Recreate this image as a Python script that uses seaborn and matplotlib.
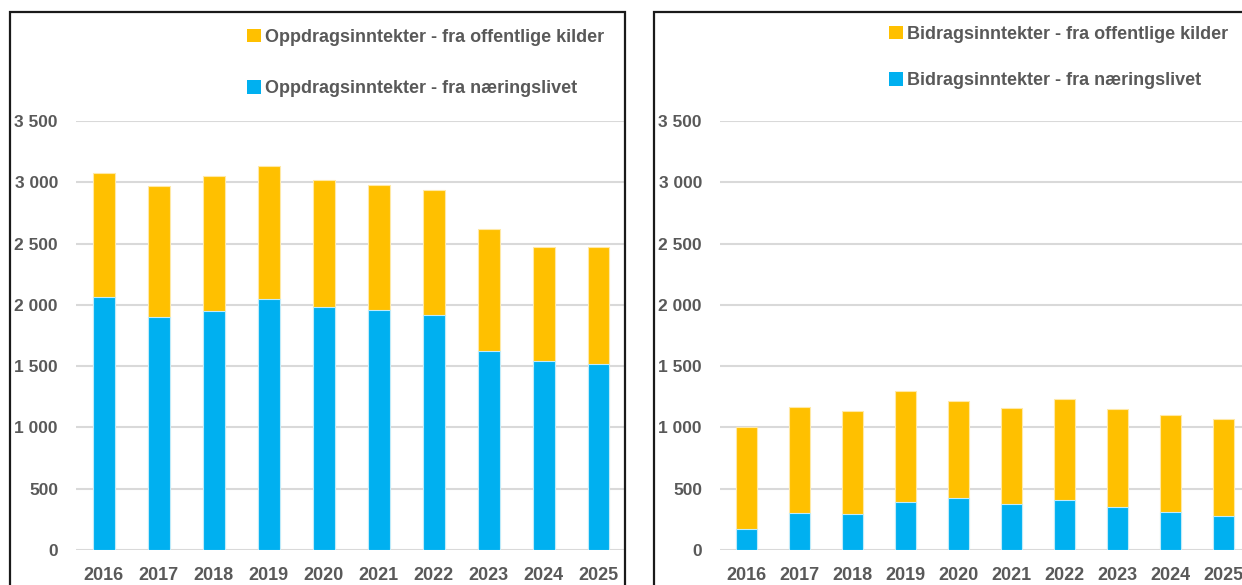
import matplotlib
matplotlib.use("Agg")
import matplotlib.pyplot as plt
import seaborn as sns
import pandas as pd
from matplotlib.patches import Rectangle, Patch
from matplotlib.ticker import FuncFormatter, MultipleLocator

years = ["2016", "2017", "2018", "2019", "2020", "2021", "2022", "2023", "2024", "2025"]

# Left panel: Oppdragsinntekter
oppdrag_naering = [2067, 1904, 1950, 2045, 1985, 1956, 1917, 1624, 1542, 1518]
oppdrag_offentlig = [1011, 1068, 1104, 1088, 1034, 1025, 1020, 993, 928, 952]

# Right panel: Bidragsinntekter
bidrag_naering = [171, 304, 291, 392, 427, 378, 410, 348, 310, 277]
bidrag_offentlig = [835, 862, 845, 902, 786, 778, 822, 800, 789, 794]

labels_left = ["Oppdragsinntekter - fra offentlige kilder", "Oppdragsinntekter - fra næringslivet"]
labels_right = ["Bidragsinntekter - fra offentlige kilder", "Bidragsinntekter - fra næringslivet"]

ORANGE = "#FFC000"
BLUE = "#00B0F0"
GRID = "#D9D9D9"
TEXT = "#595959"

sns.set_theme(style="white")
plt.rcParams["font.family"] = ["Liberation Sans", "DejaVu Sans"]

W, H = 1242, 585
fig = plt.figure(figsize=(W / 100, H / 100), dpi=100)


def px_axes(x0, y0_bottom, w, h):
    return fig.add_axes([x0 / W, (H - y0_bottom) / H, w / W, h / H])


def draw_panel(ax, naering, offentlig, labels, leg_x, leg_y, spacing):
    df = pd.DataFrame({"year": years,
                       "naering": naering,
                       "total": [a + b for a, b in zip(naering, offentlig)]})
    sns.barplot(data=df, x="year", y="total", color=ORANGE, width=0.4,
                saturation=1, edgecolor="#FFE9A6", linewidth=0.8, ax=ax, zorder=3)
    sns.barplot(data=df, x="year", y="naering", color=BLUE, width=0.4,
                saturation=1, edgecolor="#BFEBFB", linewidth=0.8, ax=ax, zorder=4)
    ax.set_ylim(0, 3500)
    ax.set_xlim(-0.5, 9.5)
    ax.yaxis.set_major_locator(MultipleLocator(500))
    ax.yaxis.set_major_formatter(FuncFormatter(lambda v, p: f"{int(v):,}".replace(",", " ")))
    ax.grid(axis="y", color=GRID, linewidth=1.5, zorder=0)
    ax.set_axisbelow(True)
    for s in ax.spines.values():
        s.set_visible(False)
    ax.set_xlabel("")
    ax.set_ylabel("")
    ax.tick_params(axis="both", length=0)
    ax.tick_params(axis="y", pad=13, labelsize=12.5, labelcolor=TEXT)
    ax.tick_params(axis="x", pad=12.5, labelsize=13, labelcolor=TEXT)
    for t in ax.get_yticklabels() + ax.get_xticklabels():
        t.set_fontweight("bold")
    handles = [Patch(facecolor=ORANGE, edgecolor="none", label=labels[0]),
               Patch(facecolor=BLUE, edgecolor="none", label=labels[1])]
    leg = fig.legend(handles=handles, loc="upper left",
                     bbox_to_anchor=(leg_x / W, 1 - leg_y / H),
                     frameon=False, handlelength=0.75, handleheight=0.75,
                     handletextpad=0.25, labelspacing=spacing, borderpad=0,
                     borderaxespad=0,
                     prop={"size": 13, "weight": "bold"})
    for t in leg.get_texts():
        t.set_color(TEXT)


ax1 = px_axes(76, 550, 550, 429)
draw_panel(ax1, oppdrag_naering, oppdrag_offentlig, labels_left, 247, 29, 1.9)

ax2 = px_axes(720, 550, 530, 429)
draw_panel(ax2, bidrag_naering, bidrag_offentlig, labels_right, 889, 26, 1.62)

# panel borders
fig.add_artist(Rectangle((9.5 / W, -0.05), (624.5 - 9.5) / W, (H - 12) / H + 0.05,
                         transform=fig.transFigure, fill=False,
                         edgecolor="#1a1a1a", linewidth=1.6, zorder=10))
fig.add_artist(Rectangle((654 / W, -0.05), (1260 - 654) / W, (H - 12) / H + 0.05,
                         transform=fig.transFigure, fill=False,
                         edgecolor="#1a1a1a", linewidth=1.6, zorder=10))

fig.savefig("out.png", dpi=100, facecolor="white")
